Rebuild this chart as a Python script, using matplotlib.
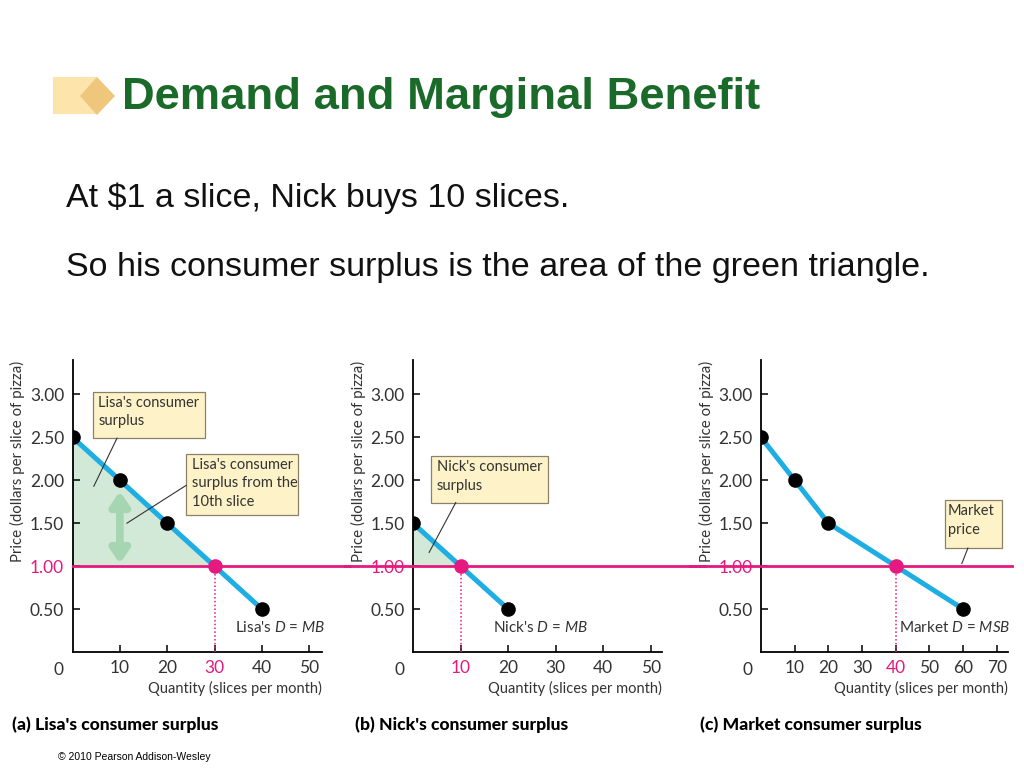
import matplotlib.pyplot as plt
from matplotlib.patches import Rectangle, Polygon

plt.rcParams['font.family'] = ['Lato', 'DejaVu Sans']
plt.rcParams['mathtext.fontset'] = 'custom'
plt.rcParams['mathtext.rm'] = 'Lato'
plt.rcParams['mathtext.it'] = 'Lato:italic'

# data
lisa_q = [0, 10, 20, 30, 40]
lisa_p = [2.5, 2.0, 1.5, 1.0, 0.5]
nick_q = [0, 10, 20]
nick_p = [1.5, 1.0, 0.5]
market_q = [0, 10, 20, 40, 60]
market_p = [2.5, 2.0, 1.5, 1.0, 0.5]
price = 1.0
lisa_buy, nick_buy, market_buy = 30, 10, 40
y_ticks = [0.5, 1.0, 1.5, 2.0, 2.5, 3.0]
xt_ab = [10, 20, 30, 40, 50]
xt_c = [10, 20, 30, 40, 50, 60, 70]

BLUE = '#1eaee3'
MAG = '#e5197f'
GREEN = '#d2e9d8'
ARROW = '#a6d5b2'
BOXFC = '#fdf2c8'
BOXEC = '#8c8068'
TXT = '#333333'

fig = plt.figure(figsize=(10.24, 7.68), dpi=100)

# header
fig.patches.append(Rectangle((53/1024, 1-114/768), 44/1024, 37/768, transform=fig.transFigure,
                             fc='#fde4ab', ec='none'))
fig.patches.append(Polygon([(80/1024, 1-96/768), (97/1024, 1-77/768), (115/1024, 1-96/768),
                            (97/1024, 1-115/768)], closed=True, transform=fig.transFigure,
                           fc='#efc77c', ec='none'))
fig.text(122/1024, 1-97/768, 'Demand and Marginal Benefit', color='#1a6b2a', fontsize=32.7,
         fontweight='bold', family='Liberation Sans', va='center', ha='left')
fig.text(66/1024, 1-198/768, r'At \$1 a slice, Nick buys 10 slices.', fontsize=24.5,
         family='Liberation Sans', va='center', ha='left', color='#111111')
fig.text(66/1024, 1-268/768, 'So his consumer surplus is the area of the green triangle.', fontsize=24.5,
         family='Liberation Sans', va='center', ha='left', color='#111111')
fig.text(58/1024, 1-757/768, '\u00a9 2010 Pearson Addison-Wesley', fontsize=7.5,
         family='Liberation Sans', va='center', ha='left')


def setup(ax, xmax, xticks, hl):
    ax.set_xlim(0, xmax)
    ax.set_ylim(0, 3.4)
    for s in ['top', 'right']:
        ax.spines[s].set_visible(False)
    for s in ['left', 'bottom']:
        ax.spines[s].set_linewidth(1.3)
    ax.set_xticks(xticks)
    ax.set_yticks(y_ticks)
    ax.set_yticklabels(['%.2f' % v for v in y_ticks])
    ax.tick_params(direction='in', length=5, width=1.1, labelsize=12.5, colors='black', pad=6)
    for lab in ax.get_xticklabels() + ax.get_yticklabels():
        lab.set_color(TXT)
    for lab in ax.get_xticklabels():
        if int(float(lab.get_text())) == hl:
            lab.set_color(MAG)
    ax.get_yticklabels()[1].set_color(MAG)
    ax.text(-0.056, -0.035, '0', transform=ax.transAxes, fontsize=12.5, color=TXT, ha='center', va='top')
    ax.set_xlabel('Quantity (slices per month)', fontsize=10.5, color=TXT, loc='right', labelpad=3)
    ax.set_ylabel('Price (dollars per slice of pizza)', fontsize=10.8, color=TXT)
    ax.yaxis.set_label_coords(-0.19, 0.654)
    ax.patch.set_alpha(0)


def box(ax, x0, x1, y0, y1, text):
    ax.add_patch(Rectangle((x0, y0), x1 - x0, y1 - y0, fc=BOXFC, ec=BOXEC, lw=0.9,
                           clip_on=False, zorder=6))
    ax.text(x0 + (x1 - x0) * 0.05, y1 - 0.05, text, fontsize=10.5, va='top', ha='left',
            linespacing=1.4, color=TXT, zorder=7)


def leader(ax, start, end):
    ax.plot([start[0], end[0]], [start[1], end[1]], color='#333333', lw=0.8, zorder=6, clip_on=False)


def demand(ax, q, p, buy, label, label_xy, hl_from, hl_to):
    ax.plot([hl_from, hl_to], [price, price], transform=ax.get_yaxis_transform(),
            color=MAG, lw=2, clip_on=False, zorder=3)
    ax.plot(q, p, color=BLUE, lw=3.6, solid_capstyle='round', zorder=4)
    ax.plot([buy, buy], [0, price], color=MAG, lw=1.1, ls=(0, (1, 1.5)), zorder=3)
    ax.plot([x for x, y in zip(q, p) if y != price], [y for y in p if y != price],
            'o', color='black', ms=9.5, zorder=5)
    ax.plot([buy], [price], 'o', color=MAG, ms=9.5, zorder=5)
    ax.text(label_xy[0], label_xy[1], label, fontsize=11, color=TXT, ha='left', va='center')


# (a) Lisa
ax1 = fig.add_axes([72.5/1024, 116/768, 249.5/1024, 292/768])
setup(ax1, 52.7, xt_ab, lisa_buy)
ax1.fill_between([0, lisa_buy], [lisa_p[0], price], [price, price], color=GREEN, lw=0, zorder=1)
demand(ax1, lisa_q, lisa_p, lisa_buy, "Lisa's $D$ = $MB$", (34.4, 0.29), 0, 1.112)
ax1.annotate('', xy=(10, 1.03), xytext=(10, 1.87),
             arrowprops=dict(arrowstyle='<|-|>,head_width=0.55,head_length=0.8', lw=5.5,
                             color=ARROW, shrinkA=0, shrinkB=0), zorder=2)
box(ax1, 4.3, 28.0, 2.49, 3.03, "Lisa's consumer\nsurplus")
leader(ax1, (9.4, 2.49), (4.5, 1.93))
box(ax1, 24.0, 47.7, 1.60, 2.31, "Lisa's consumer\nsurplus from the\n10th slice")
leader(ax1, (24.0, 1.94), (11.5, 1.5))

# (b) Nick
ax2 = fig.add_axes([413/1024, 116/768, 249/1024, 292/768])
setup(ax2, 52.4, xt_ab, nick_buy)
ax2.fill_between([0, nick_buy], [nick_p[0], price], [price, price], color=GREEN, lw=0, zorder=1)
demand(ax2, nick_q, nick_p, nick_buy, "Nick's $D$ = $MB$", (16.8, 0.29), -0.273, 1.173)
box(ax2, 3.8, 28.4, 1.74, 2.28, "Nick's consumer\nsurplus")
leader(ax2, (9.0, 1.74), (3.4, 1.16))

# (c) Market
ax3 = fig.add_axes([761/1024, 116/768, 247/1024, 292/768])
setup(ax3, 73.3, xt_c, market_buy)
demand(ax3, market_q, market_p, market_buy, "Market $D$ = $MSB$", (41.0, 0.28), -0.287, 1.016)
box(ax3, 54.6, 71.5, 1.21, 1.77, "Market\nprice")
leader(ax3, (61.4, 1.21), (59.6, 1.03))

for x, t in [(12, "(a) Lisa's consumer surplus"), (355, "(b) Nick's consumer surplus"),
             (700, "(c) Market consumer surplus")]:
    fig.text(x/1024, 1-725/768, t, fontsize=12.6, fontweight='black', va='center')

fig.savefig('out.png', dpi=100)
